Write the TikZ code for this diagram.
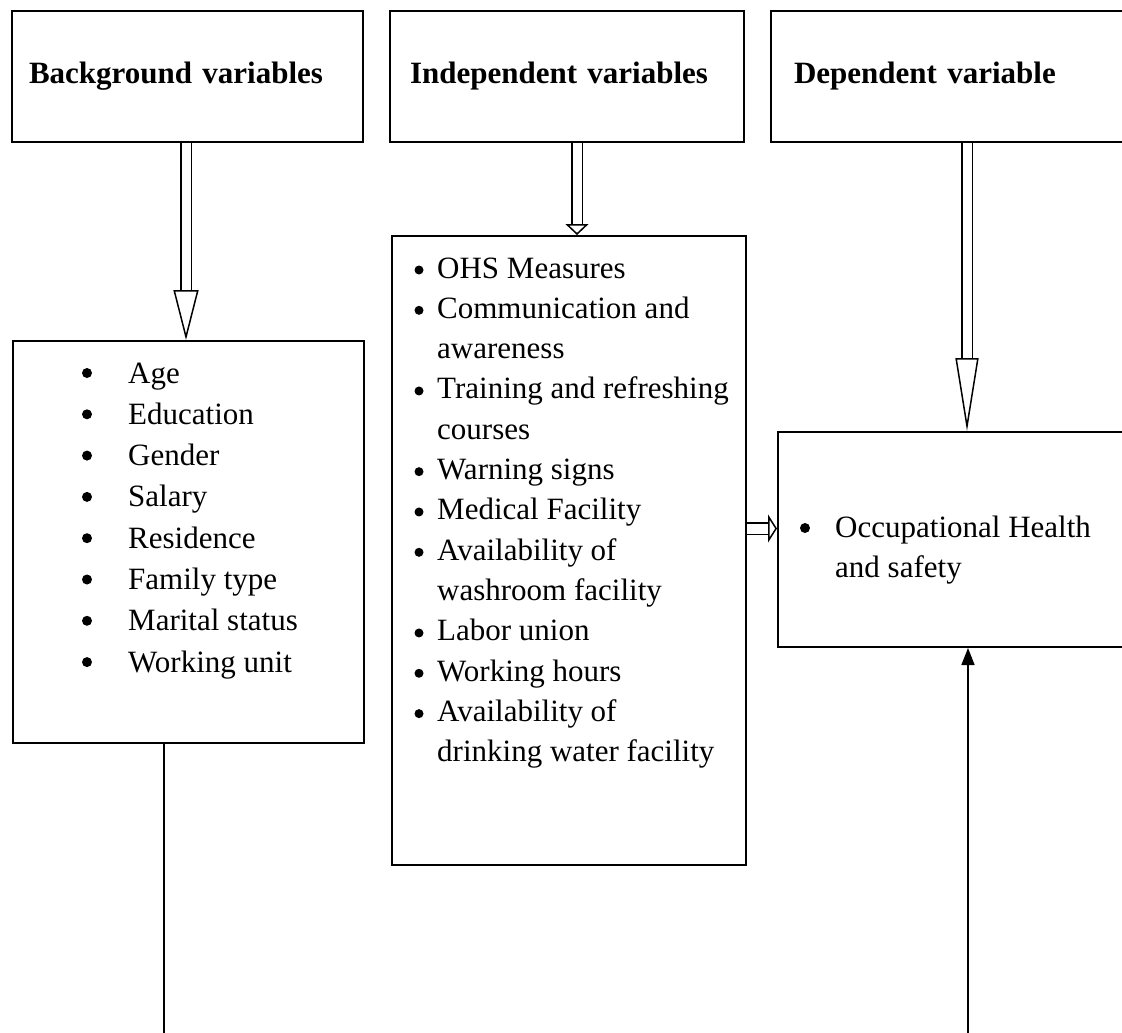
\documentclass[tikz,border=0pt]{standalone}
\usepackage{fontspec}
\setmainfont{Liberation Serif}
\usetikzlibrary{arrows.meta,positioning,calc}

\begin{document}
\begin{tikzpicture}[x=1pt,y=-1pt,
    font=\fontsize{31pt}{40pt}\selectfont,
    box/.style={draw, line width=2pt, anchor=north west, inner sep=0pt},
    head/.style={box, minimum height=131pt, align=left, font=\fontsize{31pt}{40pt}\selectfont\bfseries},
    item/.style={anchor=base west, inner sep=0pt},
    dot/.style={circle, fill, inner sep=0pt, minimum size=10pt},
    line/.style={line width=1.6pt},
    hollow/.style 2 args={double, double distance=9pt, line width=1.5pt,
      -{Triangle[open, length=#1, width=#2, line width=1.5pt]}}]
  \useasboundingbox (0,0) rectangle (1122,1033);

  % top row
  \node[head, minimum width=351pt, text width=317pt, inner xsep=17pt] (bgvar) at (11,10) {Background variables};
  \node[head, minimum width=354pt, text width=314pt, inner xsep=20pt] (indvar) at (389,10) {Independent variables};
  \node[head, minimum width=370pt, text width=324pt, inner xsep=23pt] (depvar) at (770,10) {Dependent variable};

  % lists
  \node[box, minimum width=351pt, minimum height=402pt] (bglist) at (12,340) {};
  \node[box, minimum width=354pt, minimum height=629pt] (indlist) at (391,235) {};
  \node[box, minimum width=363pt, minimum height=215pt] (ohs) at (777,431) {};

  \foreach \t [count=\i from 0] in {Age, Education, Gender, Salary, Residence,
      Family type, Marital status, Working unit} {
    \node[dot] (bgdot\i) at (87, 373+41.3*\i) {};
    \node[item] (bgitem\i) at (128, 383+41.3*\i) {\t};
  }

  \foreach \b/\t [count=\i from 0] in {1/OHS Measures, 1/Communication and,
      0/awareness, 1/Training and refreshing, 0/courses, 1/Warning signs,
      1/Medical Facility, 1/Availability of, 0/washroom facility,
      1/Labor union, 1/Working hours, 1/Availability of,
      0/drinking water facility} {
    \ifnum\b=1 \node[dot, minimum size=9pt] (inddot\i) at (419, 270+40.33*\i) {};\fi
    \node[item] (inditem\i) at (437, 278+40.33*\i) {\t};
  }

  \node[dot] (ohsdot) at (805,528) {};
  \node[item] (ohsitem1) at (835,537) {Occupational Health};
  \node[item] (ohsitem2) at (835,577) {and safety};

  % arrows
  \draw[hollow={50pt}{25pt}] ([xshift=-1.5pt]bgvar.south) -- ([xshift=-1.5pt]bgvar.south |- bglist.north);
  \draw[hollow={11pt}{23pt}] ([xshift=10pt]indvar.south) -- ([xshift=10pt]indvar.south |- indlist.north);
  \draw[hollow={73pt}{23pt}] ([xshift=11pt]depvar.south) -- ([xshift=11pt]depvar.south |- ohs.north);
  \draw[hollow={9pt}{28pt}, double distance=10pt] ([yshift=22pt]indlist.east) -- ([yshift=22pt]indlist.east -| ohs.west);

  \coordinate (bgend) at (164,1040);
  \coordinate (ohsend) at (968,1040);
  \draw[line] (bglist.south -| bgend) -- (bgend);
  \draw[line, -{Triangle[length=17pt, width=13pt]}] (ohsend) -- (ohsend |- ohs.south);
\end{tikzpicture}
\end{document}
